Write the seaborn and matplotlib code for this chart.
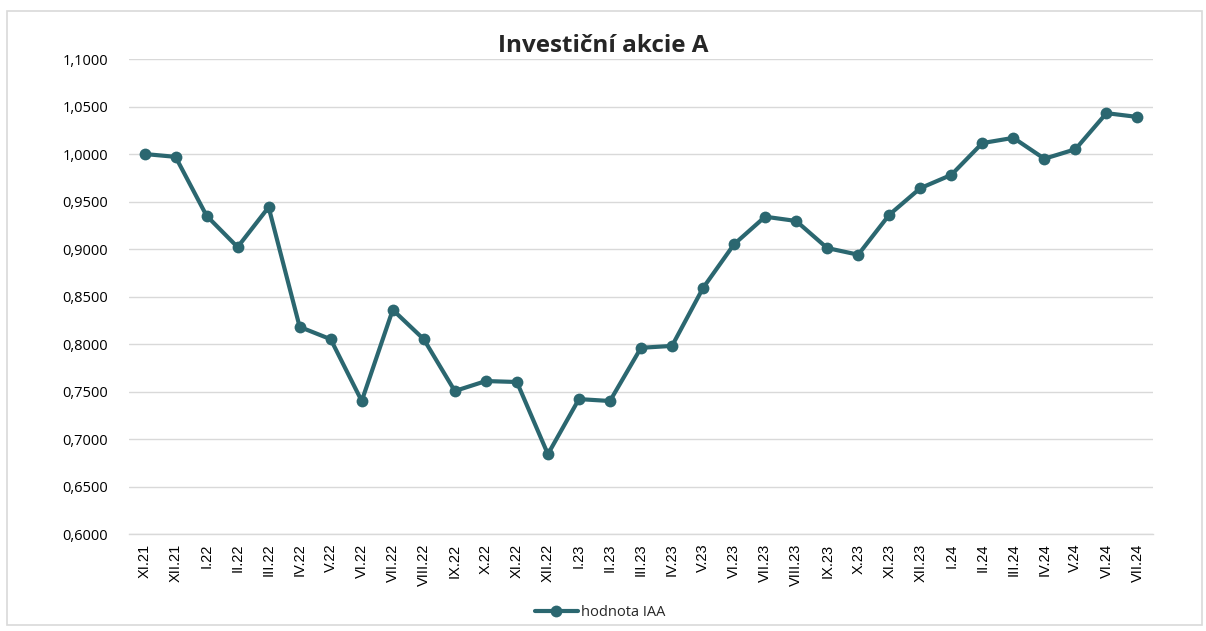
import pandas as pd
import seaborn as sns
import matplotlib.pyplot as plt
from matplotlib.patches import Rectangle
from matplotlib.ticker import FuncFormatter, FixedLocator

months = ['XI.21', 'XII.21', 'I.22', 'II.22', 'III.22', 'IV.22', 'V.22', 'VI.22',
          'VII.22', 'VIII.22', 'IX.22', 'X.22', 'XI.22', 'XII.22', 'I.23', 'II.23',
          'III.23', 'IV.23', 'V.23', 'VI.23', 'VII.23', 'VIII.23', 'IX.23', 'X.23',
          'XI.23', 'XII.23', 'I.24', 'II.24', 'III.24', 'IV.24', 'V.24', 'VI.24', 'VII.24']
iaa = [1.000, 0.997, 0.935, 0.902, 0.944, 0.818, 0.805, 0.740,
       0.836, 0.805, 0.7505, 0.761, 0.760, 0.684, 0.742, 0.740,
       0.796, 0.798, 0.859, 0.905, 0.934, 0.9295, 0.901, 0.894,
       0.936, 0.964, 0.978, 1.0115, 1.017, 0.995, 1.005, 1.043, 1.039]

df = pd.DataFrame({'mesic': months, 'hodnota IAA': iaa})

sns.set_style('white')
plt.rcParams['font.family'] = ['Open Sans', 'DejaVu Sans']

color = '#2B6770'
fig = plt.figure(figsize=(12.06, 6.31), dpi=100)
ax = fig.add_axes([129 / 1206, 1 - 534 / 631, 1024 / 1206, 475 / 631])

sns.lineplot(data=df, x='mesic', y='hodnota IAA', ax=ax, color=color, linewidth=3,
             marker='o', markersize=8.5, markeredgewidth=0, label='hodnota IAA', sort=False)

ax.set_xlim(-0.5, len(months) - 0.5)
ax.set_ylim(0.6, 1.1)
ax.set_yticks([0.6 + 0.05 * i for i in range(11)])
ax.yaxis.set_major_formatter(FuncFormatter(lambda v, p: f'{v:.4f}'.replace('.', ',')))
ax.grid(axis='y', color='#d9d9d9', linewidth=1)
ax.set_axisbelow(True)
for s in ['top', 'right', 'left']:
    ax.spines[s].set_visible(False)
ax.spines['bottom'].set_color('#d9d9d9')
ax.spines['bottom'].set_linewidth(1)

ax.set_xticks(range(len(months)), months, fontfamily=['Liberation Sans', 'DejaVu Sans'],
              rotation=90, va='top', fontsize=10.5)
ax.tick_params(axis='x', which='major', length=0, pad=7, colors='#000000')
ax.xaxis.set_minor_locator(FixedLocator([i - 0.5 for i in range(len(months) + 1)]))
ax.tick_params(axis='x', which='minor', length=5, color='#d9d9d9', width=1)
ax.tick_params(axis='y', length=0, labelsize=10.5, pad=15, colors='#000000')

ax.set_xlabel('')
ax.set_ylabel('')
fig.text(0.5, 1 - 46 / 631, 'Investiční akcie A', ha='center', va='center',
         fontsize=17.5, fontweight='bold')

ax.legend(loc='center', bbox_to_anchor=(0.46, -0.165), frameon=False, fontsize=10.5,
          handlelength=3, handletextpad=0.2)

fig.patches.append(Rectangle((7 / 1206, 1 - 625 / 631), 1195 / 1206, 614 / 631,
                             transform=fig.transFigure, fill=False,
                             edgecolor='#d9d9d9', linewidth=1.2))

fig.savefig('out.png', dpi=100)
